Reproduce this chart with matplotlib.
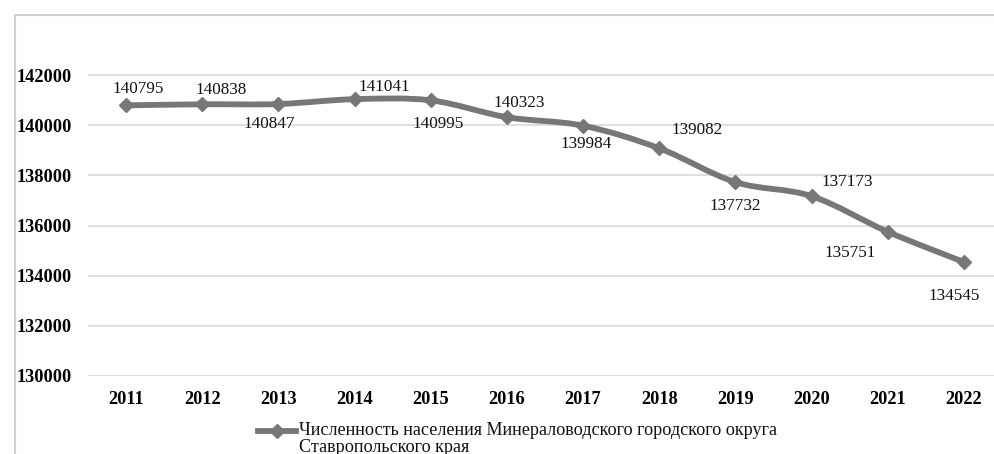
import matplotlib
matplotlib.use("Agg")
import matplotlib.pyplot as plt
from matplotlib.path import Path
from matplotlib.patches import PathPatch
from matplotlib.lines import Line2D
import numpy as np

years = ["2011", "2012", "2013", "2014", "2015", "2016", "2017", "2018", "2019", "2020", "2021", "2022"]
population = [140795, 140838, 140847, 141041, 140995, 140323, 139984, 139082, 137732, 137173, 135751, 134545]
y_ticks = [130000, 132000, 134000, 136000, 138000, 140000, 142000]
legend_label = "Численность населения Минераловодского городского округа\nСтавропольского края"

# label offsets in pixels (dx, dy) relative to the point
label_offsets = [(12, 16), (19, 14), (-9, -20), (30, 12), (7, -24), (12, 14),
                 (3, -18), (38, 18), (0, -24), (36, 14), (-38, -21), (-10, -34)]

W, H, DPI = 995, 454, 100
fig = plt.figure(figsize=(W / DPI, H / DPI), dpi=DPI)
fig.patch.set_facecolor("white")

left, right_px, top_px, bottom_px = 88, 995, 25, 376
ax = fig.add_axes([left / W, 1 - bottom_px / H, (right_px - left) / W, (bottom_px - top_px) / H])

x = np.arange(len(years))
# smooth line through data points (Catmull-Rom as cubic Bezier)
verts = [(x[0], population[0])]
codes = [Path.MOVETO]
pts = np.column_stack([x, population]).astype(float)
n = len(pts)
for i in range(n - 1):
    p0 = pts[max(i - 1, 0)]
    p1 = pts[i]
    p2 = pts[i + 1]
    p3 = pts[min(i + 2, n - 1)]
    c1 = p1 + (p2 - p0) / 6.0
    c2 = p2 - (p3 - p1) / 6.0
    verts += [tuple(c1), tuple(c2), tuple(p2)]
    codes += [Path.CURVE4] * 3
color = "#777777"
ax.add_patch(PathPatch(Path(verts, codes), facecolor="none", edgecolor=color, lw=4.2, capstyle="round", zorder=3))
ax.plot(x, population, linestyle="none", marker="D", markersize=7, color=color, zorder=4)

serif = ["Liberation Serif", "DejaVu Serif"]
for xi, yi, (dx, dy) in zip(x, population, label_offsets):
    ax.annotate(f"{yi}", (xi, yi), xytext=(dx * 0.72, dy * 0.72), textcoords="offset points",
                ha="center", va="center", fontsize=12.3, family=serif, color="#111111")

step = (964 - 126) / 11
ax.set_xlim(-(126 - left) / step, 11 + (right_px - 964) / step)
ax.set_ylim(130000, 144000)
ax.set_yticks(y_ticks)
ax.set_yticklabels([str(v) for v in y_ticks], fontsize=13.2, fontweight="bold", family=serif)
ax.set_xticks(x)
ax.set_xticklabels(years, fontsize=13.2, fontweight="bold", family=serif)
ax.tick_params(length=0)
ax.tick_params(axis="x", pad=10.5)
ax.tick_params(axis="y", pad=11.5)
ax.grid(axis="y", color="#d9d9d9", lw=1.2)
ax.set_axisbelow(True)
for s in ax.spines.values():
    s.set_visible(False)

# chart border
fig.add_artist(Line2D([15 / W, 1], [1 - 15 / H, 1 - 15 / H], color="#d0d0d0", lw=1.5))
fig.add_artist(Line2D([15 / W, 15 / W], [0, 1 - 15 / H], color="#d0d0d0", lw=1.5))

# legend
ly = 1 - 431 / H
fig.add_artist(Line2D([258 / W, 296 / W], [ly, ly], color=color, lw=4.2))
fig.add_artist(Line2D([277 / W], [ly], color=color, marker="D", markersize=7, linestyle="none"))
fig.text(299 / W, 1 - 422 / H, legend_label, ha="left", va="top", fontsize=13.1, family=serif,
         color="#111111", linespacing=1.0)

fig.savefig("out.png", dpi=DPI)
